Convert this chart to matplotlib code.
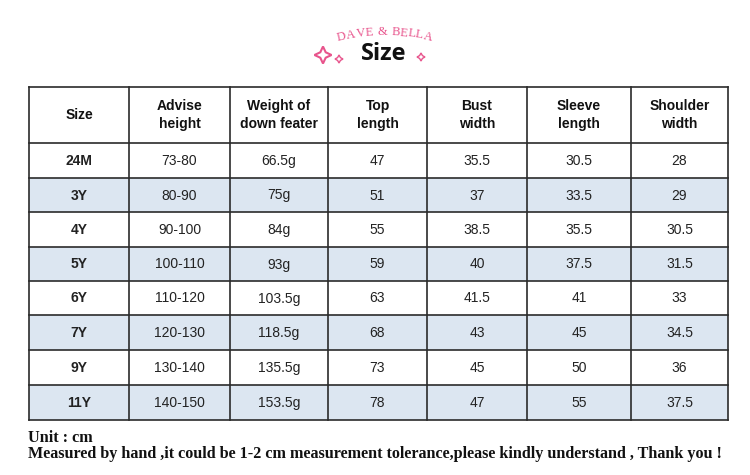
import matplotlib
matplotlib.use("Agg")
import matplotlib.pyplot as plt
import numpy as np
from matplotlib.patches import Rectangle, Polygon
from matplotlib.textpath import TextPath
from matplotlib.font_manager import FontProperties

headers = ["Size", "Advise\nheight", "Weight of\ndown feater", "Top\nlength",
           "Bust\nwidth", "Sleeve\nlength", "Shoulder\nwidth"]
sizes = ["24M", "3Y", "4Y", "5Y", "6Y", "7Y", "9Y", "11Y"]
advise_height = ["73-80", "80-90", "90-100", "100-110", "110-120", "120-130", "130-140", "140-150"]
down_weight = ["66.5g", "75g", "84g", "93g", "103.5g", "118.5g", "135.5g", "153.5g"]
top_length = ["47", "51", "55", "59", "63", "68", "73", "78"]
bust_width = ["35.5", "37", "38.5", "40", "41.5", "43", "45", "47"]
sleeve_length = ["30.5", "33.5", "35.5", "37.5", "41", "45", "50", "55"]
shoulder_width = ["28", "29", "30.5", "31.5", "33", "34.5", "36", "37.5"]
shaded_rows = ["3Y", "5Y", "7Y", "11Y"]

title = "Size"
brand = "DAVE & BELLA"
note1 = "Unit : cm"
note2 = "Measured by hand ,it could be 1-2 cm measurement tolerance,please kindly understand , Thank you !"

fig = plt.figure(figsize=(7.5, 4.75), dpi=100)
ax = fig.add_axes([0, 0, 1, 1])
ax.set_xlim(0, 750)
ax.set_ylim(475, 0)
ax.axis("off")

col_x = [29, 129, 230, 328, 427, 527, 631, 728]
row_y = [87, 143, 178, 212, 247, 281, 315, 350, 385, 420]
line_col = "#2b2b2b"
shade = "#dce6f1"

columns = [sizes, advise_height, down_weight, top_length, bust_width, sleeve_length, shoulder_width]

# shading
for r, s in enumerate(sizes):
    if s in shaded_rows:
        ax.add_patch(Rectangle((col_x[0], row_y[r + 1]), col_x[-1] - col_x[0],
                               row_y[r + 2] - row_y[r + 1], facecolor=shade, edgecolor="none", zorder=1))

# grid lines
for x in col_x:
    ax.plot([x, x], [row_y[0], row_y[-1]], color=line_col, lw=1.2, zorder=2, solid_capstyle="projecting")
for y in row_y:
    ax.plot([col_x[0], col_x[-1]], [y, y], color=line_col, lw=1.2, zorder=2, solid_capstyle="projecting")

font = "Liberation Sans"
# headers
for c, h in enumerate(headers):
    cx = (col_x[c] + col_x[c + 1]) / 2
    cy = (row_y[0] + row_y[1]) / 2
    ax.text(cx, cy, h, ha="center", va="center", fontsize=10, fontweight="bold",
            family=font, color="#111111", linespacing=1.45, zorder=3)

# data
for c, col in enumerate(columns):
    cx = (col_x[c] + col_x[c + 1]) / 2
    for r, v in enumerate(col):
        cy = (row_y[r + 1] + row_y[r + 2]) / 2
        ax.text(cx, cy + 4.5, v, ha="center", va="baseline", fontsize=10,
                fontweight="bold" if c == 0 else "normal",
                family=font, color="#222222", zorder=3)

# title
ax.text(384, 54, title, ha="center", va="center", fontsize=17, fontweight="bold",
        family="Open Sans", color="#111111")

# arched brand text
pink = "#e8548c"
fp = FontProperties(family="Liberation Serif", size=9)
widths = []
for ch in brand:
    if ch == " ":
        widths.append(4.0)
    else:
        ext = TextPath((0, 0), ch, prop=fp).get_extents()
        widths.append(ext.width * 100 / 72 + 1.8)
total = sum(widths)
target = 97.0
scale = target / total
widths = [w * scale for w in widths]
cx0, cy0, R = 385, 224, 192
span = target / R
pos = 0.0
for ch, w in zip(brand, widths):
    s = pos + w / 2
    pos += w
    ang = np.pi / 2 + span / 2 - s / R
    x = cx0 + R * np.cos(ang)
    y = cy0 - R * np.sin(ang)
    rot = np.rad2deg(ang - np.pi / 2)
    if ch != " ":
        ax.text(x, y, ch, ha="center", va="center", fontproperties=fp,
                color=pink, rotation=rot, rotation_mode="anchor")

# sparkles
def sparkle(x, y, r, lw, inner=0.42):
    pts = []
    for k in range(4):
        a = np.pi / 2 * k
        pts.append((x + r * np.cos(a), y - r * np.sin(a)))
        a2 = a + np.pi / 4
        pts.append((x + inner * r * np.cos(a2), y - inner * r * np.sin(a2)))
    ax.add_patch(Polygon(pts, closed=True, facecolor="none", edgecolor=pink, lw=lw,
                         joinstyle="miter", zorder=4))

sparkle(323, 55, 8.5, 1.5, 0.45)
sparkle(339, 59, 4, 1.0, 0.5)
sparkle(421, 57, 4, 1.0, 0.5)

# notes
ax.text(28, 438, note1, ha="left", va="center", fontsize=11.6, fontweight="bold",
        family="Liberation Serif", color="#111111")
ax.text(28, 454, note2, ha="left", va="center", fontsize=11.65, fontweight="bold",
        family="Liberation Serif", color="#111111")

fig.savefig("out.png", dpi=100, facecolor="white")
